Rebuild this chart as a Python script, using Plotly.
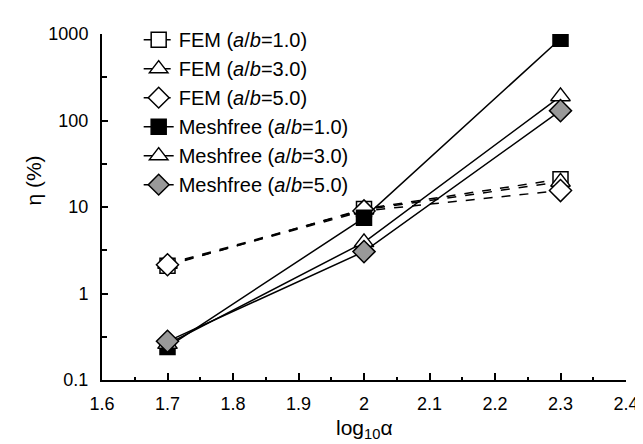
import plotly.graph_objects as go

x_vals = [1.7, 2.0, 2.3]

fem_ab1 = [2.1, 9.5, 21.0]
fem_ab3 = [2.2, 9.3, 19.5]
fem_ab5 = [2.15, 9.0, 15.5]
mesh_ab1 = [0.24, 7.5, 880.0]
mesh_ab3 = [0.26, 3.9, 190.0]
mesh_ab5 = [0.28, 3.05, 130.0]

series_names = [
    "FEM (<i>a</i>/<i>b</i>=1.0)",
    "FEM (<i>a</i>/<i>b</i>=3.0)",
    "FEM (<i>a</i>/<i>b</i>=5.0)",
    "Meshfree (<i>a</i>/<i>b</i>=1.0)",
    "Meshfree (<i>a</i>/<i>b</i>=3.0)",
    "Meshfree (<i>a</i>/<i>b</i>=5.0)",
]
series_vals = [fem_ab1, fem_ab3, fem_ab5, mesh_ab1, mesh_ab3, mesh_ab5]

y_tickvals = [0.1, 1, 10, 100, 1000]
y_ticktext = ["0.1", "1", "10", "100", "1000"]
y_minor = [0.316, 3.16, 31.6, 316]
x_tickvals = [1.6, 1.7, 1.8, 1.9, 2.0, 2.1, 2.2, 2.3, 2.4]
x_ticktext = ["1.6", "1.7", "1.8", "1.9", "2", "2.1", "2.2", "2.3", "2.4"]

styles = [
    dict(symbol="square", fill="white", dash="dash", size=15),
    dict(symbol="triangle-up", fill="white", dash="dash", size=17),
    dict(symbol="diamond", fill="white", dash="dash", size=17),
    dict(symbol="square", fill="black", dash="solid", size=15),
    dict(symbol="triangle-up", fill="white", dash="solid", size=17),
    dict(symbol="diamond", fill="#999999", dash="solid", size=17),
]

FONT = "Liberation Sans, Arial, sans-serif"

fig = go.Figure()
for name, vals, st in zip(series_names, series_vals, styles):
    fig.add_trace(go.Scatter(
        x=x_vals, y=vals, name=name, mode="lines+markers",
        line=dict(color="black", width=1.5, dash=st["dash"]),
        marker=dict(symbol=st["symbol"], size=st["size"], color=st["fill"],
                    line=dict(color="black", width=1.5)),
    ))

fig.update_layout(
    width=643, height=444,
    margin=dict(l=94, r=14, t=16, b=72),
    paper_bgcolor="white", plot_bgcolor="white",
    font=dict(family=FONT, size=18, color="black"),
    showlegend=True,
    legend=dict(x=0.07, y=1.04, xanchor="left", yanchor="top",
                bgcolor="rgba(0,0,0,0)", tracegroupgap=0,
                font=dict(size=20), itemwidth=30),
    xaxis=dict(range=[1.6, 2.4], tickvals=x_tickvals, ticktext=x_ticktext,
               ticks="inside", ticklen=7, tickwidth=2, tickcolor="black",
               showline=True, linecolor="black", linewidth=2,
               showgrid=False, zeroline=False, ticklabelstandoff=6,
               tickfont=dict(size=18),
               minor=dict(dtick=0.05, tick0=1.6, ticks="inside", ticklen=3,
                          tickwidth=2, tickcolor="black", showgrid=False)),
    yaxis=dict(type="log", range=[-1, 3], tickvals=y_tickvals,
               ticktext=y_ticktext,
               ticks="inside", ticklen=6, tickwidth=2, tickcolor="black",
               showline=True, linecolor="black", linewidth=2,
               showgrid=False, zeroline=False, ticklabelstandoff=8,
               tickfont=dict(size=18),
               minor=dict(tickvals=y_minor, ticks="inside", ticklen=5,
                          tickwidth=2, tickcolor="black", showgrid=False)),
    annotations=[
        dict(text="log<sub>10</sub>α", xref="paper", yref="paper",
             x=0.5, y=-0.143, xanchor="center", yanchor="middle",
             showarrow=False, font=dict(size=21)),
        dict(text="η (%)", xref="paper", yref="paper",
             x=-0.13, y=0.576, xanchor="center", yanchor="middle",
             textangle=-90, showarrow=False, font=dict(size=21)),
    ],
)

fig.write_html("out.html")
